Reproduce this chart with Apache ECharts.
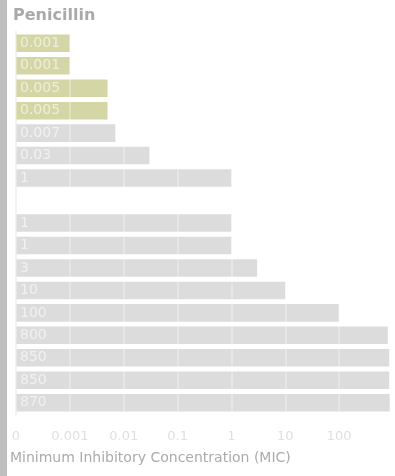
<!DOCTYPE html>
<html>
<head>
<meta charset="utf-8">
<script src="https://cdn.jsdelivr.net/npm/echarts@6/dist/echarts.min.js"></script>
<style>
html,body{margin:0;padding:0;background:#fff;}
#chart{width:395px;height:476px;}
</style>
</head>
<body>
<div id="chart"></div>
<script>
// Data
var isolates = ['S1','S2','S3','S4','S5','S6','S7','','R1','R2','R3','R4','R5','R6','R7','R8','R9'];
var micValues = [0.001, 0.001, 0.005, 0.005, 0.007, 0.03, 1, null, 1, 1, 3, 10, 100, 800, 850, 850, 870];
var micLabels = ['0.001','0.001','0.005','0.005','0.007','0.03','1','','1','1','3','10','100','800','850','850','870'];
var highlighted = [true, true, true, true, false, false, false, false, false, false, false, false, false, false, false, false, false];
var tickLabels = ['0', '0.001', '0.01', '0.1', '1', '10', '100'];
var minDecade = -4; // the "0" tick sits one decade below 0.001

var FONT = 'DejaVu Sans';
var seriesData = micValues.map(function (v, i) {
  if (v === null) return '-';
  return {
    value: Math.log10(v) - minDecade,
    itemStyle: { color: highlighted[i] ? '#d5d6a6' : '#dcdcdc' },
    label: { formatter: micLabels[i] }
  };
});

var chart = echarts.init(document.getElementById('chart'), null, { renderer: 'canvas' });
chart.setOption({
  animation: false,
  backgroundColor: '#ffffff',
  graphic: [{
    type: 'rect', left: 0, top: 0, shape: { width: 7, height: 476 },
    style: { fill: '#bfbfbf' }, z: 0
  }],
  title: [{
    text: 'Penicillin', left: 8, top: 3,
    textStyle: { fontFamily: FONT, fontSize: 16, fontWeight: 'bold', color: '#a9a9a9' }
  }, {
    text: 'Minimum Inhibitory Concentration (MIC)', left: 5, top: 446,
    textStyle: { fontFamily: FONT, fontSize: 14, fontWeight: 'normal', color: '#ababab' }
  }],
  grid: { left: 16, right: 2, top: 32, bottom: 62, containLabel: false },
  xAxis: {
    type: 'value', min: 0, max: 7, interval: 1, z: 5,
    axisLine: { show: false }, axisTick: { show: false },
    splitLine: { show: true, lineStyle: { color: 'rgba(255,255,255,0.3)', width: 2 } },
    axisLabel: {
      showMaxLabel: false, margin: 16,
      fontFamily: FONT, fontSize: 13, color: '#e0e0e0',
      formatter: function (v) { return tickLabels[v] !== undefined ? tickLabels[v] : ''; }
    }
  },
  yAxis: {
    type: 'category', inverse: true, data: isolates,
    axisLine: { show: true, lineStyle: { color: '#ececec', width: 2 } },
    axisTick: { show: false }, axisLabel: { show: false }
  },
  series: [{
    type: 'bar', data: seriesData, barCategoryGap: '22%',
    label: {
      show: true, position: 'insideLeft', distance: 4,
      fontFamily: FONT, fontSize: 14, color: 'rgba(255,255,255,0.6)'
    }
  }]
});
</script>
</body>
</html>
